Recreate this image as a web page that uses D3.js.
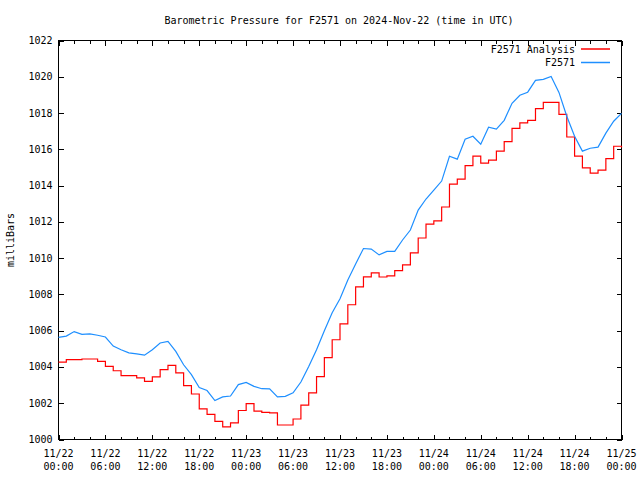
<!DOCTYPE html>
<html>
<head>
<meta charset="utf-8">
<script src="https://cdn.jsdelivr.net/npm/d3@7"></script>
<style>
  html, body { margin: 0; padding: 0; background: #fff; }
  svg { display: block; }
  text { font-family: "DejaVu Sans Mono", "Liberation Mono", monospace; font-size: 10px; fill: #000; }
</style>
</head>
<body>
<svg id="chart" width="640" height="480"></svg>
<script>
// ---- data (hours since 2024-11-22 00:00 UTC) ----
const hours = [0,1,2,3,4,5,6,7,8,9,10,11,12,13,14,15,16,17,18,19,20,21,22,23,24,
  25,26,27,28,29,30,31,32,33,34,35,36,37,38,39,40,41,42,43,44,45,46,47,48,
  49,50,51,52,53,54,55,56,57,58,59,60,61,62,63,64,65,66,67,68,69,70,71,72];

const f2571 = [
  1005.63,1005.70,1005.95,1005.80,1005.82,1005.75,1005.65,1005.15,1004.95,1004.78,
  1004.72,1004.65,1004.95,1005.32,1005.41,1004.86,1004.12,1003.58,1002.86,1002.70,
  1002.15,1002.35,1002.40,1003.03,1003.15,1002.93,1002.80,1002.79,1002.35,1002.38,
  1002.57,1003.17,1004.03,1004.95,1006.00,1006.99,1007.76,1008.80,1009.68,1010.53,
  1010.50,1010.18,1010.37,1010.37,1011.00,1011.55,1012.65,1013.26,1013.75,1014.25,
  1015.62,1015.46,1016.56,1016.72,1016.28,1017.22,1017.11,1017.60,1018.54,1018.98,
  1019.15,1019.80,1019.86,1020.02,1019.14,1017.82,1016.72,1015.90,1016.06,1016.12,
  1016.89,1017.55,1017.98];

const analysis = [
  1004.27,1004.40,1004.40,1004.44,1004.44,1004.31,1004.03,1003.79,1003.52,1003.52,
  1003.40,1003.20,1003.45,1003.85,1004.09,1003.67,1002.97,1002.51,1001.69,1001.38,
  1001.00,1000.70,1000.92,1001.60,1001.98,1001.56,1001.50,1001.47,1000.80,1000.80,
  1001.13,1001.90,1002.57,1003.47,1004.51,1005.50,1006.38,1007.43,1008.42,1008.97,
  1009.19,1008.96,1009.02,1009.31,1009.63,1010.29,1011.11,1011.88,1012.05,1012.82,
  1014.08,1014.36,1015.10,1015.62,1015.24,1015.40,1015.90,1016.42,1017.16,1017.46,
  1017.60,1018.24,1018.59,1018.59,1017.93,1016.68,1015.62,1014.98,1014.69,1014.85,
  1015.49,1016.17,1016.10];

const yTicks = [1000,1002,1004,1006,1008,1010,1012,1014,1016,1018,1020,1022];
const xMajorTicks = [0,6,12,18,24,30,36,42,48,54,60,66,72];
const xMinorTicks = [2,4,8,10,14,16,20,22,26,28,32,34,38,40,44,46,50,52,56,58,62,64,68,70];
const xDateLabels = ["11/22","11/22","11/22","11/22","11/23","11/23","11/23","11/23","11/24","11/24","11/24","11/24","11/25"];
const xTimeLabels = ["00:00","06:00","12:00","18:00","00:00","06:00","12:00","18:00","00:00","06:00","12:00","18:00","00:00"];

const titleText = "Barometric Pressure for F2571 on 2024-Nov-22 (time in UTC)";
const yLabelText = "milliBars";
const seriesNames = ["F2571 Analysis", "F2571"];
const seriesColors = ["#ff0000", "#1e8fff"];

// ---- layout ----
const L = 58.5, R = 621.5, T = 40.5, B = 439.5;
const svg = d3.select("#chart");

const x = d3.scaleLinear().domain([0, 72]).range([L, R]);
const y = d3.scaleLinear().domain([1000, 1022]).range([B, T]);

// title
svg.append("text").attr("x", 339).attr("y", 23.5).attr("text-anchor", "middle").text(titleText);

// y label
svg.append("text").attr("transform", "translate(13.5,240) rotate(-90)")
  .attr("text-anchor", "middle").text(yLabelText);

// axes (ticks inward, mirrored)
const g = svg.append("g").attr("shape-rendering", "crispEdges");
const tickStyle = sel => { sel.select(".domain").remove(); sel.selectAll("line").attr("stroke", "#000"); sel.selectAll("text").remove(); };

g.append("g").attr("transform", `translate(0,${B})`)
  .call(d3.axisBottom(x).tickValues(xMajorTicks).tickSize(-5).tickFormat("")).call(tickStyle);
g.append("g").attr("transform", `translate(0,${B})`)
  .call(d3.axisBottom(x).tickValues(xMinorTicks).tickSize(-3).tickFormat("")).call(tickStyle);
g.append("g").attr("transform", `translate(0,${T})`)
  .call(d3.axisTop(x).tickValues(xMajorTicks).tickSize(-5).tickFormat("")).call(tickStyle);
g.append("g").attr("transform", `translate(0,${T})`)
  .call(d3.axisTop(x).tickValues(xMinorTicks).tickSize(-3).tickFormat("")).call(tickStyle);
g.append("g").attr("transform", `translate(${L},0)`)
  .call(d3.axisLeft(y).tickValues(yTicks).tickSize(-5).tickFormat("")).call(tickStyle);
g.append("g").attr("transform", `translate(${R},0)`)
  .call(d3.axisRight(y).tickValues(yTicks).tickSize(-5).tickFormat("")).call(tickStyle);

// tick labels
svg.append("g").selectAll("text").data(yTicks).join("text")
  .attr("x", 52.5).attr("y", d => y(d) + 3.5).attr("text-anchor", "end").text(d => d);

const xl = svg.append("g").selectAll("g").data(xMajorTicks).join("g");
xl.append("text").attr("x", d => x(d)).attr("y", 457).attr("text-anchor", "middle").text((d, i) => xDateLabels[i]);
xl.append("text").attr("x", d => x(d)).attr("y", 470).attr("text-anchor", "middle").text((d, i) => xTimeLabels[i]);

// lines
const lineBlue = d3.line().x((d, i) => x(hours[i])).y(d => y(d)).curve(d3.curveLinear);
const lineRed = d3.line().x((d, i) => x(hours[i])).y(d => y(d)).curve(d3.curveStepAfter);

svg.append("path").datum(analysis).attr("d", lineRed)
  .attr("fill", "none").attr("stroke", seriesColors[0]).attr("stroke-width", 1.2);
svg.append("path").datum(f2571).attr("d", lineBlue)
  .attr("fill", "none").attr("stroke", seriesColors[1]).attr("stroke-width", 1.2);

// frame
g.append("rect").attr("x", L).attr("y", T).attr("width", R - L).attr("height", B - T)
  .attr("fill", "none").attr("stroke", "#000");

// legend
const leg = svg.append("g");
seriesNames.forEach((name, i) => {
  const ly = 49 + i * 13.5;
  leg.append("text").attr("x", 575).attr("y", ly + 3.5).attr("text-anchor", "end").text(name);
  leg.append("path").attr("d", `M581,${ly}H610`)
    .attr("fill", "none").attr("stroke", seriesColors[i]).attr("stroke-width", 1.5);
});
</script>
</body>
</html>
